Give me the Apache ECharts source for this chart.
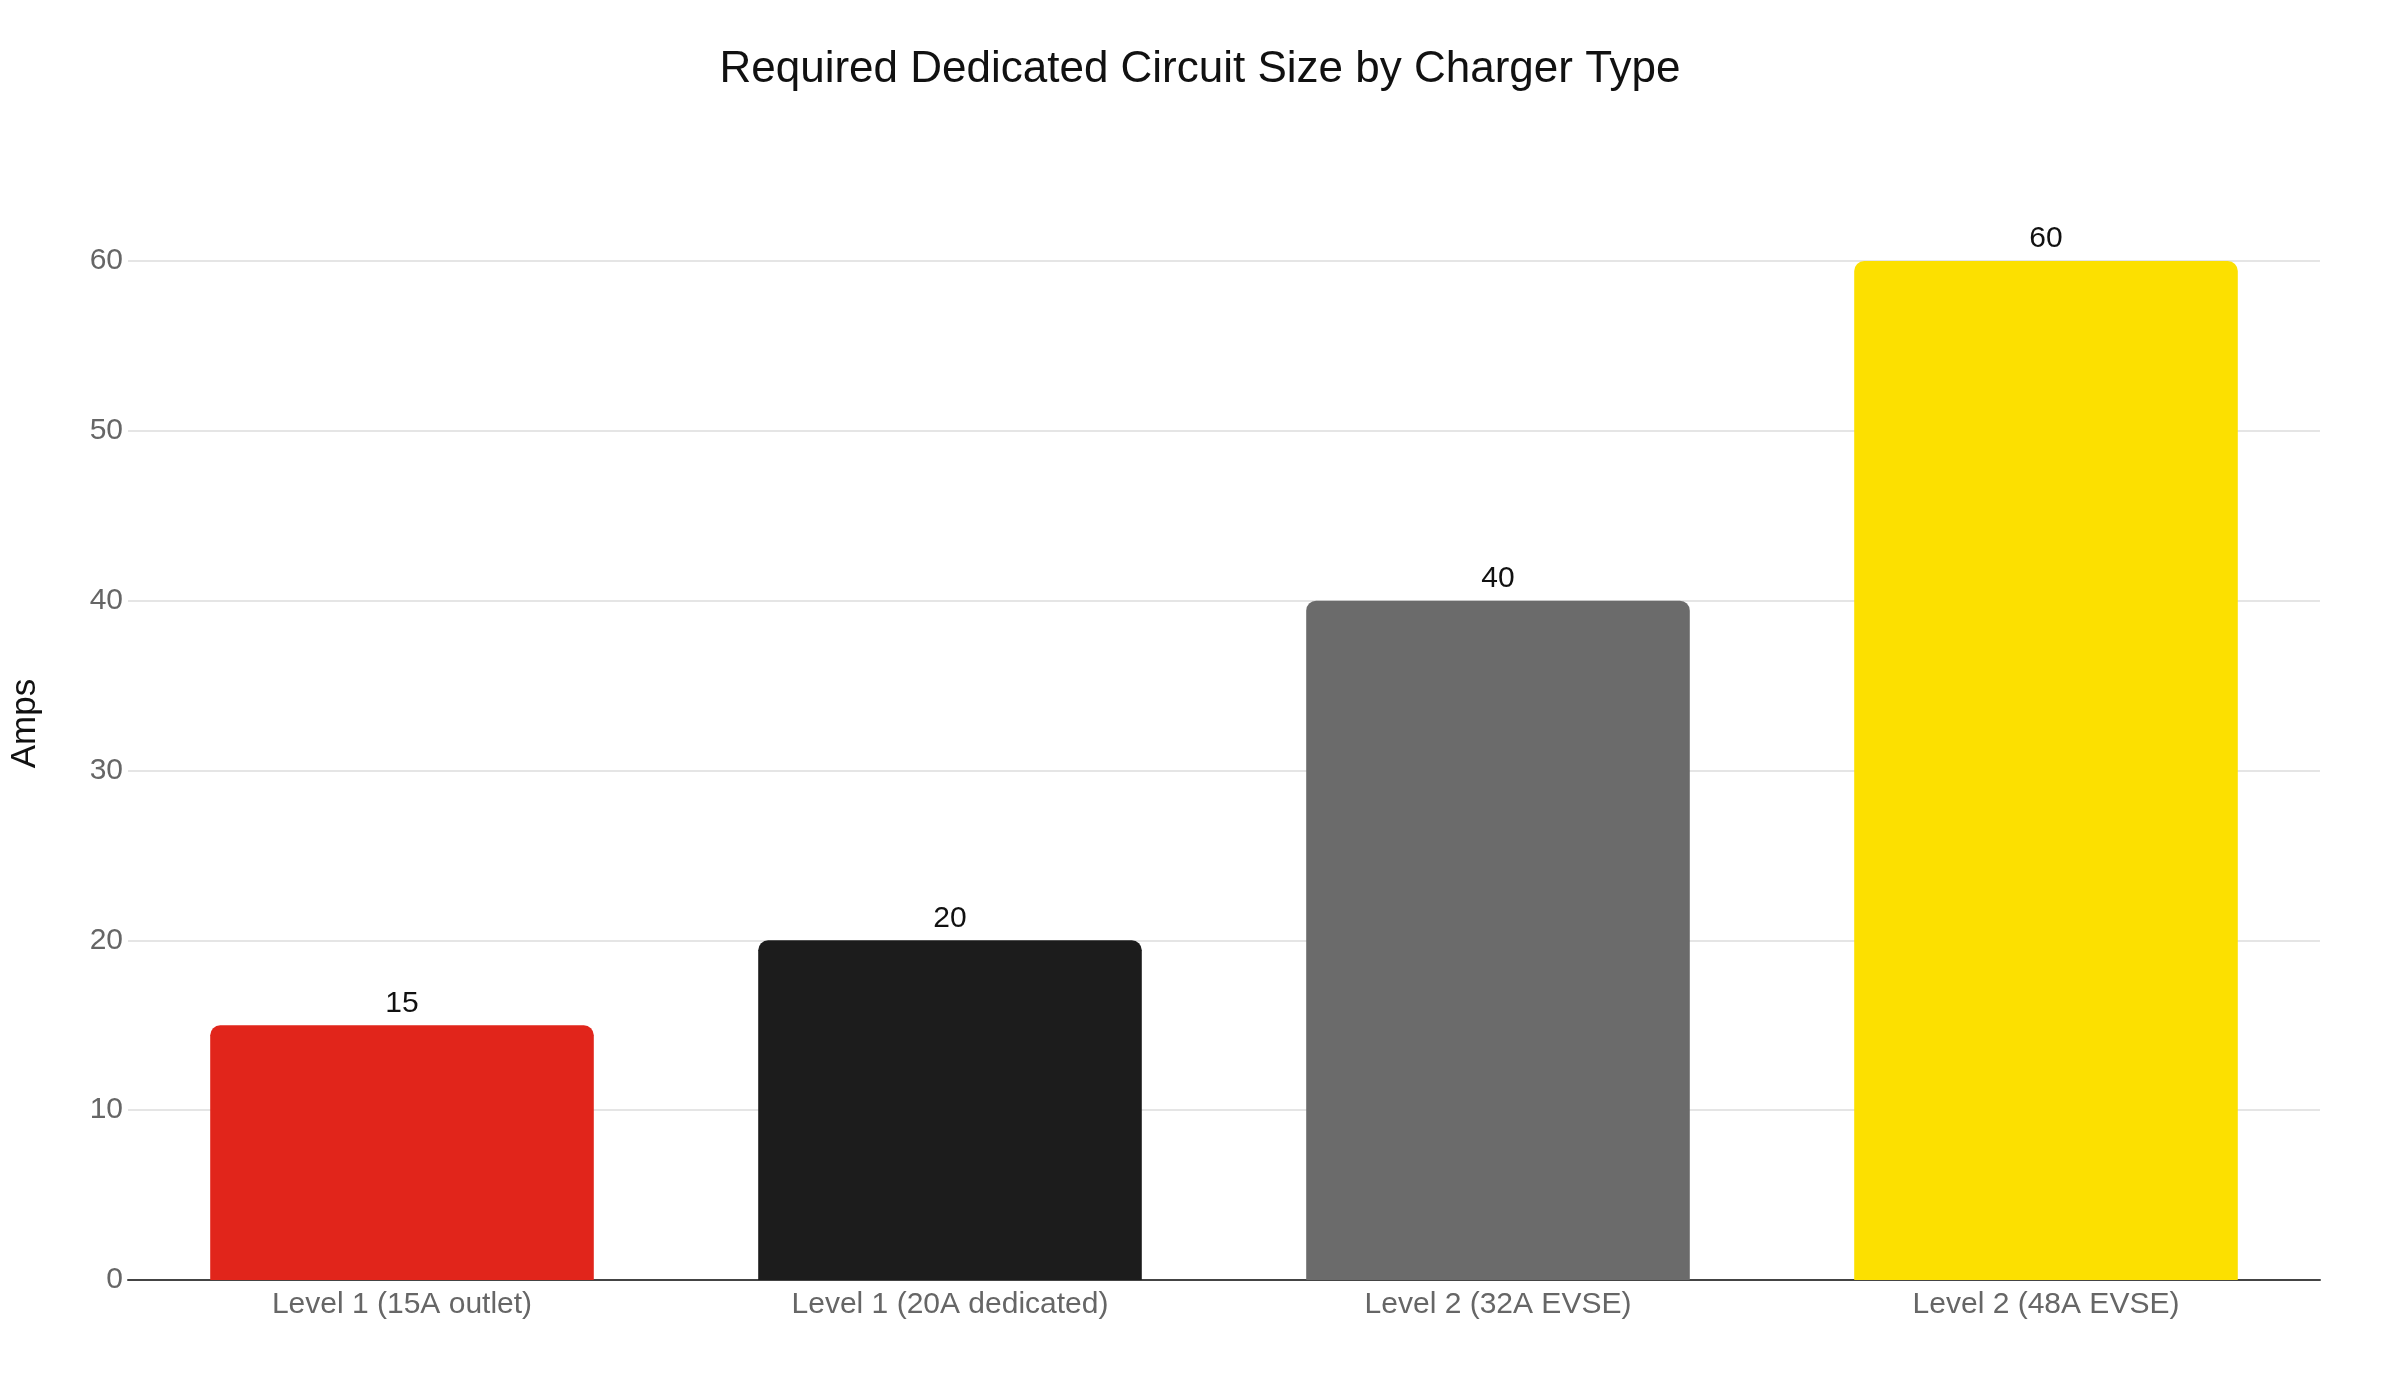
<!DOCTYPE html>
<html>
<head>
<meta charset="utf-8">
<script src="https://cdn.jsdelivr.net/npm/echarts@6/dist/echarts.min.js"></script>
<style>
html, body { margin: 0; padding: 0; background: #fff; }
#app { width: 2400px; height: 1400px; }
</style>
</head>
<body>
<div id="app"></div>
<script>
const categories = ['Level 1 (15A outlet)', 'Level 1 (20A dedicated)', 'Level 2 (32A EVSE)', 'Level 2 (48A EVSE)'];
const amps = [15, 20, 40, 60];
const barColors = ['#E1251B', '#1C1C1C', '#6B6B6B', '#FCE000'];

const myChart = echarts.init(document.getElementById('app'));
const font = 'Liberation Sans, Arial, Helvetica, sans-serif';

const option = {
    animation: false,
    backgroundColor: '#fff',
    textStyle: { fontFamily: font },
    title: {
        text: 'Required Dedicated Circuit Size by Charger Type',
        left: 'center',
        top: 43,
        textStyle: { fontFamily: font, fontSize: 44, fontWeight: 'normal', color: '#111' }
    },
    grid: { left: 120, right: 80, top: 261, bottom: 120 },
    xAxis: {
        type: 'category',
        data: categories,
        axisLine: { lineStyle: { color: '#444', width: 2 } },
        axisTick: { show: false },
        axisLabel: { fontSize: 30, color: '#666', margin: 10, fontFamily: font }
    },
    yAxis: {
        type: 'value',
        min: 0,
        max: 60,
        interval: 10,
        name: 'Amps',
        nameLocation: 'middle',
        nameRotate: 90,
        nameGap: 85,
        // the title sits a little above the middle of the plot
        nameTextStyle: { fontSize: 35, color: '#111', fontFamily: font, padding: [0, 0, 0, 94] },
        axisLine: { show: false },
        axisTick: { show: false },
        splitLine: { lineStyle: { color: '#E5E5E5', width: 2 } },
        axisLabel: { fontSize: 30, color: '#666', margin: 5, fontFamily: font }
    },
    series: [{
        type: 'bar',
        barCategoryGap: '30%',
        data: amps.map((v, i) => ({ value: v, itemStyle: { color: barColors[i] } })),
        itemStyle: { borderRadius: [10, 10, 0, 0] },
        label: {
            show: true,
            position: 'top',
            distance: 7,
            fontSize: 30,
            color: '#111',
            fontFamily: font
        }
    }]
};

myChart.setOption(option);
</script>
</body>
</html>
